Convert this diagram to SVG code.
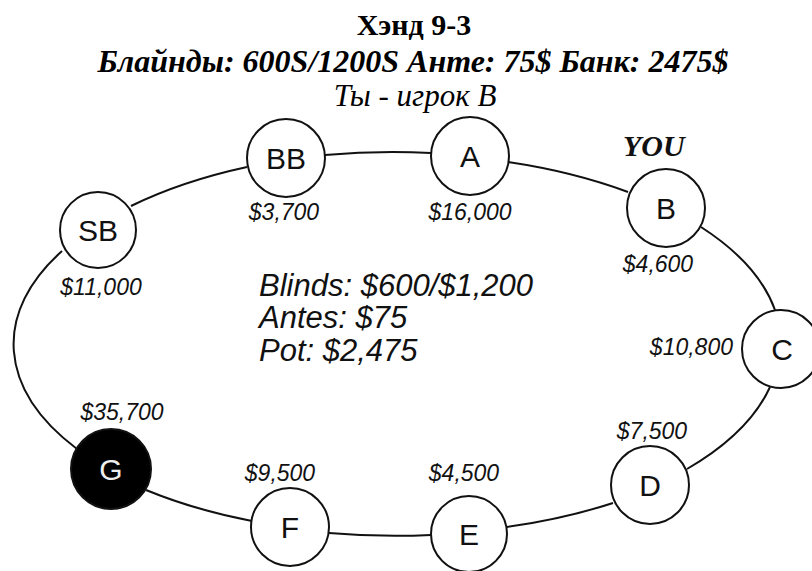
<svg xmlns="http://www.w3.org/2000/svg" width="812" height="571" viewBox="0 0 812 571">
<style>
.bg{fill:#fff}
.t1{font-family:"Liberation Serif","Times New Roman",serif;font-weight:bold;font-size:30px;fill:#000}
.t2{font-family:"Liberation Serif","Times New Roman",serif;font-weight:bold;font-style:italic;font-size:32px;fill:#000}
.t3{font-family:"Liberation Serif","Times New Roman",serif;font-style:italic;font-size:31px;fill:#000}
.you{font-family:"Liberation Serif","Times New Roman",serif;font-weight:bold;font-style:italic;font-size:30px;fill:#111}
.seat{fill:#fff;stroke:#111;stroke-width:2}
.dark{fill:#000;stroke:#111;stroke-width:2}
.lbl{font-family:"Liberation Sans",Arial,sans-serif;font-size:30px;fill:#111;text-anchor:middle}
.lblw{font-family:"Liberation Sans",Arial,sans-serif;font-size:30px;fill:#eee;text-anchor:middle}
.amt{font-family:"Liberation Sans",Arial,sans-serif;font-style:italic;font-size:23px;fill:#111;text-anchor:middle}
.info{font-family:"Liberation Sans",Arial,sans-serif;font-style:italic;font-size:31px;fill:#111}
.conn{fill:none;stroke:#111;stroke-width:2}
</style>
<rect class="bg" x="0" y="0" width="812" height="571"/>
<g id="title">
<text class="t1" x="414" y="35" text-anchor="middle">Хэнд 9-3</text>
<text class="t2" x="413" y="72" text-anchor="middle">Блайнды: 600S/1200S Анте: 75$ Банк: 2475$</text>
<text class="t3" x="415" y="106" text-anchor="middle">Ты - игрок B</text>
</g>
<g id="connectors">
<path class="conn" d="M131,206 A384,191 0 0 1 247,167"/>
<path class="conn" d="M325,155 A384,191 0 0 1 431,153"/>
<path class="conn" d="M508,162 A384,191 0 0 1 628,192"/>
<path class="conn" d="M701,227 A384,191 0 0 1 775,310"/>
<path class="conn" d="M770,387 A384,191 0 0 1 687,469"/>
<path class="conn" d="M613,503 A384,191 0 0 1 507,527"/>
<path class="conn" d="M431,535 A384,191 0 0 1 329,533"/>
<path class="conn" d="M252,521 A384,191 0 0 1 146,490"/>
<path class="conn" d="M77,449 A384,191 0 0 1 62,251"/>
</g>
<g id="info">
<text class="info" x="259" y="296">Blinds: $600/$1,200</text>
<text class="info" x="259" y="328">Antes: $75</text>
<text class="info" x="259" y="361">Pot: $2,475</text>
</g>
<g id="seat-SB">
<circle class="seat" cx="98" cy="230" r="38"/>
<text class="lbl" x="98" y="241">SB</text>
<text class="amt" x="101" y="295">$11,000</text>
</g>
<g id="seat-BB">
<circle class="seat" cx="286" cy="158" r="39"/>
<text class="lbl" x="286" y="169">BB</text>
<text class="amt" x="284" y="220">$3,700</text>
</g>
<g id="seat-A">
<circle class="seat" cx="470" cy="156" r="39"/>
<text class="lbl" x="470" y="167">A</text>
<text class="amt" x="470" y="220">$16,000</text>
</g>
<g id="seat-B">
<text class="you" x="623" y="156">YOU</text>
<circle class="seat" cx="666" cy="208" r="39"/>
<text class="lbl" x="666" y="219">B</text>
<text class="amt" x="658" y="272">$4,600</text>
</g>
<g id="seat-C">
<circle class="seat" cx="781" cy="349" r="39"/>
<text class="lbl" x="782" y="360">C</text>
<text class="amt" x="733" y="355" style="text-anchor:end">$10,800</text>
</g>
<g id="seat-D">
<circle class="seat" cx="650" cy="485" r="39"/>
<text class="lbl" x="650" y="496">D</text>
<text class="amt" x="652" y="439">$7,500</text>
</g>
<g id="seat-E">
<circle class="seat" cx="469" cy="534" r="38"/>
<text class="lbl" x="469" y="545">E</text>
<text class="amt" x="464" y="481">$4,500</text>
</g>
<g id="seat-F">
<circle class="seat" cx="290" cy="527" r="39"/>
<text class="lbl" x="290" y="538">F</text>
<text class="amt" x="280" y="481">$9,500</text>
</g>
<g id="seat-G">
<circle class="dark" cx="111" cy="469" r="40"/>
<text class="lblw" x="111" y="480">G</text>
<text class="amt" x="122" y="420">$35,700</text>
</g>
</svg>
